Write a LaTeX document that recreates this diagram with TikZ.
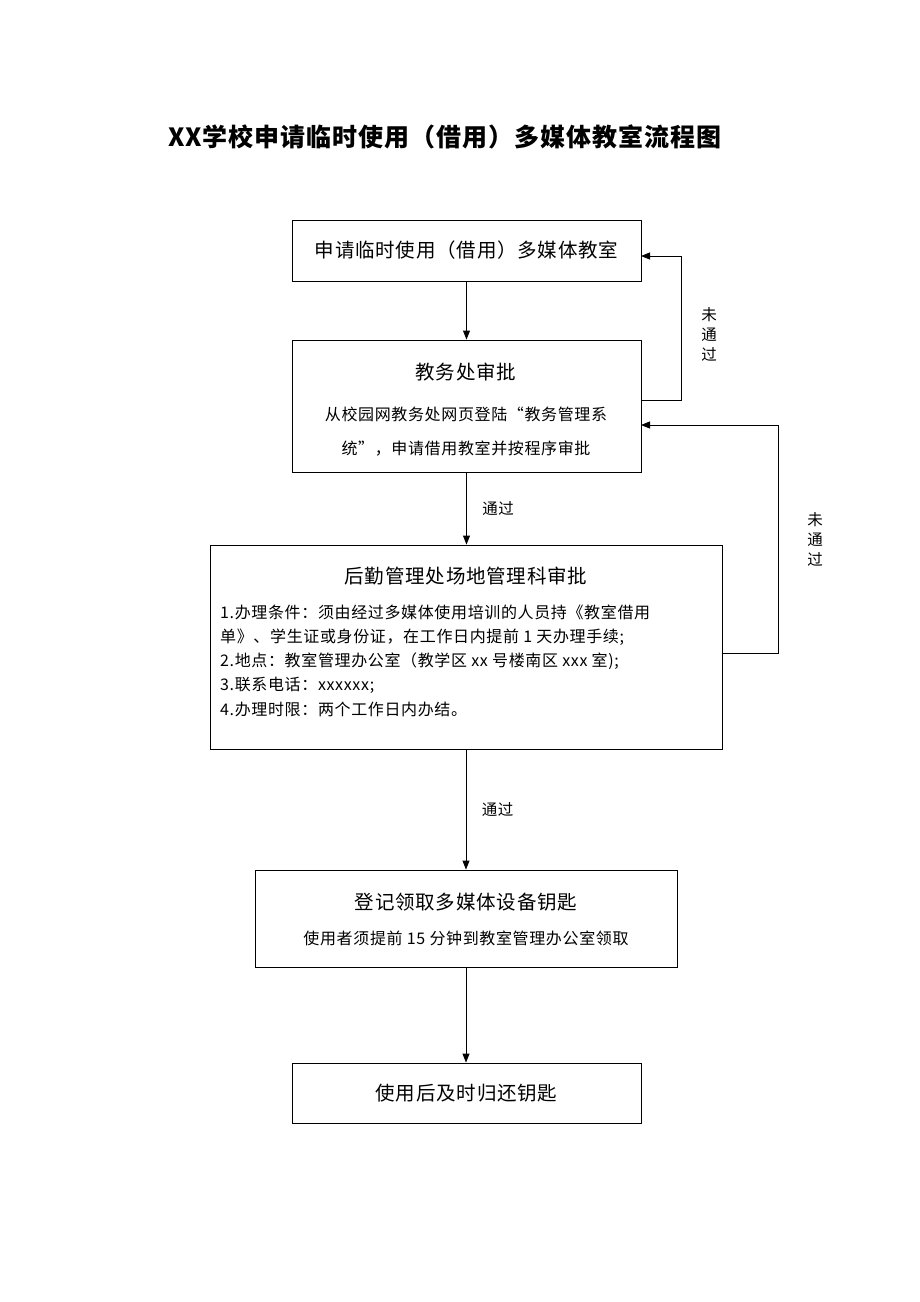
\documentclass[tikz,border=0pt]{standalone}
\usepackage{fontspec}
\setmainfont{Noto Sans CJK SC}[LetterSpace=4]
\usetikzlibrary{arrows.meta}
\begin{document}
\begin{tikzpicture}[x=1pt,y=-1pt,
  box/.style={draw,line width=0.9pt},
  arr/.style={-{Triangle[length=9pt,width=7pt]},line width=0.9pt},
  t/.style={font=\fontsize{19.5}{22}\selectfont},
  s/.style={font=\fontsize{16}{18}\selectfont},
  lab/.style={font=\fontsize{15.5}{18}\selectfont}]
\useasboundingbox (0,0) rectangle (920,1302);
\node[font=\fontsize{25}{28}\selectfont\bfseries] (title) at (445,137) {XX学校申请临时使用（借用）多媒体教室流程图};
\node[box,minimum width=349pt,minimum height=61pt] (b1) at (466.5,250.5) {};
\node[t] at (b1) {申请临时使用（借用）多媒体教室};
\node[box,minimum width=349pt,minimum height=132pt] (b2) at (466.5,406) {};
\node[t] at (466,372) {教务处审批};
\node[s] at (466,414) {从校园网教务处网页登陆“教务管理系};
\node[s] at (466,449) {统”，申请借用教室并按程序审批};
\node[box,minimum width=512pt,minimum height=204pt] (b3) at (466,647) {};
\node[t] at (466,576) {后勤管理处场地管理科审批};
\foreach \y/\s in {612/{1.办理条件：须由经过多媒体使用培训的人员持《教室借用},637/{单》、学生证或身份证，在工作日内提前 1 天办理手续;},661/{2.地点：教室管理办公室（教学区 xx 号楼南区 xxx 室);},685/{3.联系电话：xxxxxx;},709/{4.办理时限：两个工作日内办结。}}
  \node[s,anchor=west,inner sep=0] at (220,\y) {\s};
\node[box,minimum width=422pt,minimum height=97pt] (b4) at (466,918.5) {};
\node[t] at (466,902) {登记领取多媒体设备钥匙};
\node[s] at (466,938) {使用者须提前 15 分钟到教室管理办公室领取};
\node[box,minimum width=349pt,minimum height=60pt] (b5) at (466.5,1093) {};
\node[t] at (b5) {使用后及时归还钥匙};
\draw[arr] (b1.south) -- (b2.south |- b2.north);
\draw[arr] (b2.south) -- (b3.north -| b2.south) node[lab,midway,right=12pt] {通过};
\draw[arr] (b3.south -| b4.north) -- (b4.north) node[lab,midway,right=12pt] {通过};
\draw[arr] (b4.south) -- (b5.north -| b4.south);
\coordinate (c1) at (641,400);
\coordinate (c2) at (641,256);
\draw[arr] (c1) -- (681,400) -- (681,256) -- (c2);
\coordinate (c3) at (722,653);
\coordinate (c4) at (641,425);
\draw[arr] (c3) -- (778,653) -- (778,425) -- (c4);
\node[lab,align=center] (n1) at (709,334) {未\\[2pt]通\\[2pt]过};
\node[lab,align=center] (n2) at (815,539) {未\\[2pt]通\\[2pt]过};
\end{tikzpicture}
\end{document}
